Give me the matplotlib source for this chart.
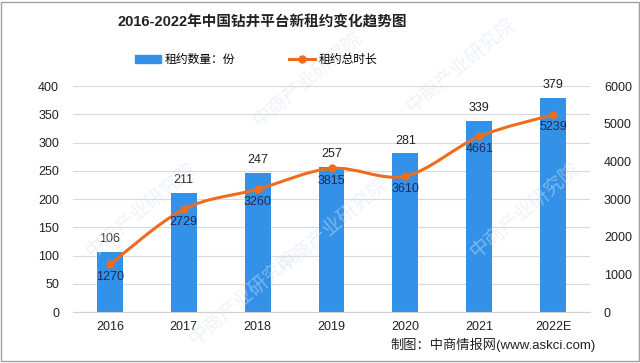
import matplotlib.pyplot as plt
import numpy as np
from matplotlib.path import Path
from matplotlib.patches import PathPatch, Rectangle
from matplotlib.lines import Line2D
from matplotlib.patches import Patch

plt.rcParams['font.family'] = ['Liberation Sans', 'Noto Sans CJK SC', 'DejaVu Sans']

# Dữ liệu
years = ['2016', '2017', '2018', '2019', '2020', '2021', '2022E']
contracts = [106, 211, 247, 257, 281, 339, 379]
total_days = [1270, 2729, 3260, 3815, 3610, 4661, 5239]

bar_color = '#3391e8'
line_color = '#ed6d1f'

fig = plt.figure(figsize=(6.4, 3.63), dpi=100)
ax = fig.add_axes([0.114, 0.140, 0.808, 0.623])
ax2 = ax.twinx()

x = np.arange(len(years))
ax.bar(x, contracts, width=0.35, color=bar_color, zorder=2)
for xi, v in zip(x, contracts):
    ax.text(xi, v + 12, str(v), ha='center', va='bottom', fontsize=9, color='#222222')

ax.set_xlim(-0.5, len(years) - 0.5)
ax.set_ylim(0, 400)
ax.set_yticks(range(0, 401, 50))
ax.grid(axis='y', color='#d9d9d9', linewidth=0.8, zorder=0)
ax.set_axisbelow(True)
ax.set_xticks(x)
ax.set_xticklabels(years)
for a in (ax, ax2):
    for s in a.spines.values():
        s.set_visible(False)
    a.tick_params(length=0, labelsize=9, colors='#222222')
ax.spines['bottom'].set_visible(True)
ax.spines['bottom'].set_color('#d0d0d0')
ax.tick_params(axis='y', pad=10)
ax.tick_params(axis='x', pad=6)

ax2.set_ylim(0, 6000)
ax2.set_yticks(range(0, 6001, 1000))
ax2.tick_params(axis='y', pad=10)

# Đường cong mượt (Catmull-Rom -> Bezier)
pts = np.column_stack([x, total_days]).astype(float)
verts = [tuple(pts[0])]
codes = [Path.MOVETO]
for i in range(len(pts) - 1):
    p0 = pts[max(i - 1, 0)]
    p1 = pts[i]
    p2 = pts[i + 1]
    p3 = pts[min(i + 2, len(pts) - 1)]
    c1 = p1 + (p2 - p0) / 6
    c2 = p2 - (p3 - p1) / 6
    verts += [tuple(c1), tuple(c2), tuple(p2)]
    codes += [Path.CURVE4] * 3
ax2.add_patch(PathPatch(Path(verts, codes), facecolor='none', edgecolor=line_color,
                        linewidth=2.2, zorder=3))
ax2.plot(x, total_days, 'o', color=line_color, markersize=5, zorder=4)
for xi, v in zip(x, total_days):
    ax2.text(xi, v - 180, str(v), ha='center', va='top', fontsize=9, color='#1f2a55')

# Tiêu đề
fig.text(0.41, 0.937, '2016-2022年中国钻井平台新租约变化趋势图', ha='center', va='center',
         fontsize=10.5, fontweight='bold', color='#222222')

# Chú thích
handles = [Patch(color=bar_color), Line2D([], [], color=line_color, linewidth=2.2,
                                          marker='o', markersize=5)]
fig.legend(handles, ['租约数量：份', '租约总时长'], loc='center', bbox_to_anchor=(0.40, 0.835),
           ncol=2, frameon=False, fontsize=8.5, handlelength=2.2, columnspacing=4.6,
           handletextpad=0.3)

fig.text(0.93, 0.05, '制图：中商情报网(www.askci.com)', ha='right', va='center',
         fontsize=9.5, color='#222222')

# Watermark
for wx, wy in [(0.22, 0.42), (0.48, 0.78), (0.52, 0.38), (0.82, 0.42), (0.38, 0.18),
               (0.72, 0.82)]:
    fig.text(wx, wy, '中商产业研究院', fontsize=14, color='#d6e4f2', alpha=0.45,
             rotation=40, ha='center', va='center', zorder=0)

fig.patches.append(Rectangle((0.002, 0.005), 0.996, 0.99, transform=fig.transFigure,
                             fill=False, edgecolor='#a0a0a0', linewidth=1))

fig.savefig('out.png', dpi=100)
